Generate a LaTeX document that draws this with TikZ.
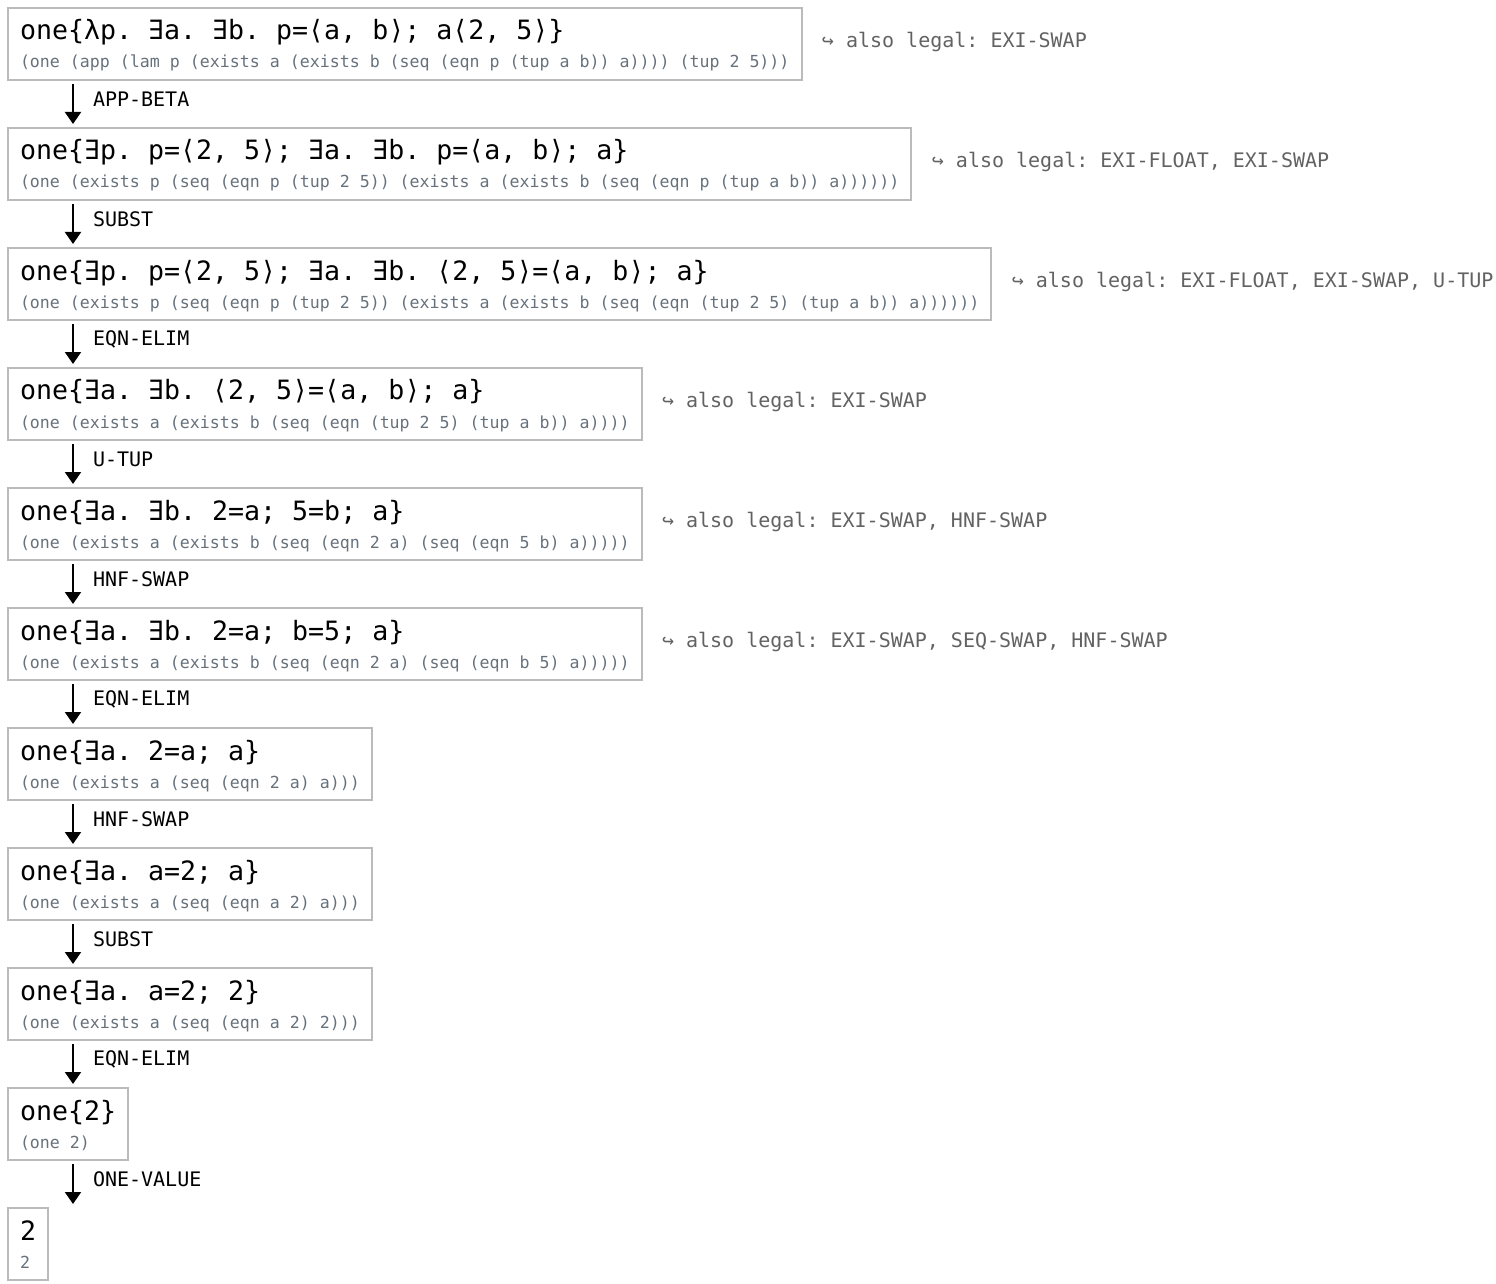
\documentclass[tikz,border=0pt]{standalone}
\usepackage{fontspec}
\usepackage{xcolor}
\setmonofont{DejaVu Sans Mono}
\usetikzlibrary{arrows.meta, positioning}

\definecolor{boxgray}{HTML}{BBBBBB}
\definecolor{subgray}{HTML}{66717C}
\definecolor{notegray}{HTML}{626262}

% two-line term: surface syntax over its s-expression
\newcommand{\redex}[2]{\vbox{\baselineskip=14pt\lineskiplimit=-\maxdimen
  \hbox{\fontsize{13.3}{16}\selectfont\vrule height 16pt depth 0pt width 0pt #1}%
  \hbox{\color{subgray}\fontsize{8.3}{10}\selectfont\vrule height 0pt depth 6pt width 0pt #2}}}

\begin{document}
\begin{tikzpicture}[
    x=0.5pt, y=-0.5pt,
    every node/.style={font=\ttfamily},
    term/.style={draw=boxgray, line width=1pt, anchor=north west, inner xsep=6pt, inner ysep=0pt},
    note/.style={inner sep=0pt, text=notegray, font=\ttfamily\fontsize{10}{12}\selectfont},
    steplabel/.style={right, xshift=9.5pt, yshift=2.5pt, inner sep=0pt, font=\ttfamily\fontsize{10}{12}\selectfont},
    arrow/.style={-{Triangle[width=8pt,length=6pt]}, line width=1pt}
]
    \useasboundingbox (0,0) rectangle (1496,1284);

    % Terms
    \node[term] (t1) at (7,7) {\redex{one\{λp. ∃a. ∃b. p=⟨a, b⟩; a⟨2, 5⟩\}}{(one (app (lam p (exists a (exists b (seq (eqn p (tup a b)) a)))) (tup 2 5)))}};
    \node[term] (t2) at (7,127) {\redex{one\{∃p. p=⟨2, 5⟩; ∃a. ∃b. p=⟨a, b⟩; a\}}{(one (exists p (seq (eqn p (tup 2 5)) (exists a (exists b (seq (eqn p (tup a b)) a))))))}};
    \node[term] (t3) at (7,247) {\redex{one\{∃p. p=⟨2, 5⟩; ∃a. ∃b. ⟨2, 5⟩=⟨a, b⟩; a\}}{(one (exists p (seq (eqn p (tup 2 5)) (exists a (exists b (seq (eqn (tup 2 5) (tup a b)) a))))))}};
    \node[term] (t4) at (7,367) {\redex{one\{∃a. ∃b. ⟨2, 5⟩=⟨a, b⟩; a\}}{(one (exists a (exists b (seq (eqn (tup 2 5) (tup a b)) a))))}};
    \node[term] (t5) at (7,487) {\redex{one\{∃a. ∃b. 2=a; 5=b; a\}}{(one (exists a (exists b (seq (eqn 2 a) (seq (eqn 5 b) a)))))}};
    \node[term] (t6) at (7,607) {\redex{one\{∃a. ∃b. 2=a; b=5; a\}}{(one (exists a (exists b (seq (eqn 2 a) (seq (eqn b 5) a)))))}};
    \node[term] (t7) at (7,727) {\redex{one\{∃a. 2=a; a\}}{(one (exists a (seq (eqn 2 a) a)))}};
    \node[term] (t8) at (7,847) {\redex{one\{∃a. a=2; a\}}{(one (exists a (seq (eqn a 2) a)))}};
    \node[term] (t9) at (7,967) {\redex{one\{∃a. a=2; 2\}}{(one (exists a (seq (eqn a 2) 2)))}};
    \node[term] (t10) at (7,1087) {\redex{one\{2\}}{(one 2)}};
    \node[term] (t11) at (7,1207) {\redex{2}{2}};

    % Other legal rules
    \node[note, right=9.5pt of t1, yshift=1pt] (n1) {↪ also legal: EXI-SWAP};
    \node[note, right=9.5pt of t2, yshift=1pt] (n2) {↪ also legal: EXI-FLOAT, EXI-SWAP};
    \node[note, right=9.5pt of t3, yshift=1pt] (n3) {↪ also legal: EXI-FLOAT, EXI-SWAP, U-TUP};
    \node[note, right=9.5pt of t4, yshift=1pt] (n4) {↪ also legal: EXI-SWAP};
    \node[note, right=9.5pt of t5, yshift=1pt] (n5) {↪ also legal: EXI-SWAP, HNF-SWAP};
    \node[note, right=9.5pt of t6, yshift=1pt] (n6) {↪ also legal: EXI-SWAP, SEQ-SWAP, HNF-SWAP};

    % Steps
    \draw[arrow] ([xshift=33pt,yshift=-1.5pt]t1.south west) -- node[steplabel] {APP-BETA} ([xshift=33pt,yshift=1.5pt]t2.north west);
    \draw[arrow] ([xshift=33pt,yshift=-1.5pt]t2.south west) -- node[steplabel] {SUBST} ([xshift=33pt,yshift=1.5pt]t3.north west);
    \draw[arrow] ([xshift=33pt,yshift=-1.5pt]t3.south west) -- node[steplabel] {EQN-ELIM} ([xshift=33pt,yshift=1.5pt]t4.north west);
    \draw[arrow] ([xshift=33pt,yshift=-1.5pt]t4.south west) -- node[steplabel] {U-TUP} ([xshift=33pt,yshift=1.5pt]t5.north west);
    \draw[arrow] ([xshift=33pt,yshift=-1.5pt]t5.south west) -- node[steplabel] {HNF-SWAP} ([xshift=33pt,yshift=1.5pt]t6.north west);
    \draw[arrow] ([xshift=33pt,yshift=-1.5pt]t6.south west) -- node[steplabel] {EQN-ELIM} ([xshift=33pt,yshift=1.5pt]t7.north west);
    \draw[arrow] ([xshift=33pt,yshift=-1.5pt]t7.south west) -- node[steplabel] {HNF-SWAP} ([xshift=33pt,yshift=1.5pt]t8.north west);
    \draw[arrow] ([xshift=33pt,yshift=-1.5pt]t8.south west) -- node[steplabel] {SUBST} ([xshift=33pt,yshift=1.5pt]t9.north west);
    \draw[arrow] ([xshift=33pt,yshift=-1.5pt]t9.south west) -- node[steplabel] {EQN-ELIM} ([xshift=33pt,yshift=1.5pt]t10.north west);
    \draw[arrow] ([xshift=33pt,yshift=-1.5pt]t10.south west) -- node[steplabel] {ONE-VALUE} ([xshift=33pt,yshift=1.5pt]t11.north west);
\end{tikzpicture}
\end{document}
